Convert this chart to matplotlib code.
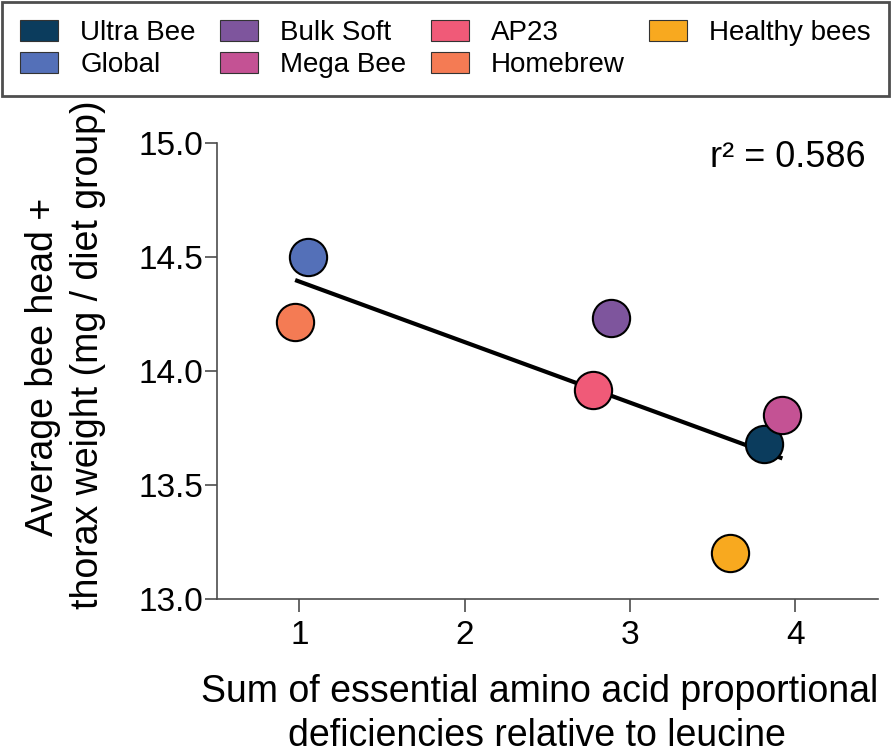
import matplotlib.pyplot as plt
from matplotlib.patches import Patch

plt.rcParams['font.family'] = ['Liberation Sans', 'DejaVu Sans']

# diet groups
diets = ['Ultra Bee', 'Global', 'Bulk Soft', 'Mega Bee', 'AP23', 'Homebrew', 'Healthy bees']
colors = ['#0B3C5D', '#5470B8', '#7E559D', '#C45294', '#F05A78', '#F47B54', '#F8A91F']
deficiency = [3.81, 1.05, 2.885, 3.922, 2.776, 0.975, 3.602]
weight = [13.68, 14.50, 14.235, 13.808, 13.918, 14.215, 13.202]

# regression line over the six diets (healthy bees not included)
fit_slope = -0.2657
fit_intercept = 14.659
r_squared = 0.586

fig = plt.figure(figsize=(8.92, 7.54), dpi=100)
W, H = 892, 754
ax = fig.add_axes([216.6 / W, 1 - 599 / H, (878 - 216.6) / W, (599 - 143.3) / H])

fit_x = [min(deficiency[:6]), max(deficiency[:6])]
fit_y = [fit_intercept + fit_slope * x for x in fit_x]
ax.plot(fit_x, fit_y, color='black', lw=3, solid_capstyle='butt', zorder=2)

for x, y, c in zip(deficiency, weight, colors):
    ax.scatter(x, y, s=720, color=c, edgecolor='black', linewidth=1.5, zorder=3)

ax.set_xlim(0.5, 4.5)
ax.set_ylim(13.0, 15.0)
ax.set_xticks([1, 2, 3, 4])
ax.set_yticks([13.0, 13.5, 14.0, 14.5, 15.0])
ax.set_yticklabels(['13.0', '13.5', '14.0', '14.5', '15.0'])
for side in ['top', 'right']:
    ax.spines[side].set_visible(False)
for side in ['left', 'bottom']:
    ax.spines[side].set_color('#4d4d4d')
    ax.spines[side].set_linewidth(1.2)
ax.tick_params(axis='both', direction='out', length=9, width=1.2, color='#4d4d4d', labelsize=24)
ax.tick_params(axis='y', pad=0.5)
ax.tick_params(axis='x', pad=6)

ax.text(866 / W, 1 - 167 / H, 'r² = %.3f' % r_squared, transform=fig.transFigure,
        ha='right', va='baseline', fontsize=26)

# axis labels, one text per line
fig.text(540 / W, 1 - 702 / H, 'Sum of essential amino acid proportional',
         ha='center', va='baseline', fontsize=27)
fig.text(537 / W, 1 - 746 / H, 'deficiencies relative to leucine',
         ha='center', va='baseline', fontsize=27)
fig.text(53 / W, 1 - 367 / H, 'Average bee head +', rotation=90, rotation_mode='anchor',
         ha='center', va='baseline', fontsize=27)
fig.text(98 / W, 1 - 355 / H, 'thorax weight (mg / diet group)', rotation=90, rotation_mode='anchor',
         ha='center', va='baseline', fontsize=27)

handles = [Patch(facecolor=c, edgecolor='#333333', linewidth=0.8) for c in colors]
leg = fig.legend(handles, diets, ncol=4, loc='upper left', mode='expand',
                 bbox_to_anchor=(2 / W, 1 - 2 / H, 887 / W, 0), borderaxespad=0,
                 fontsize=20, handlelength=1.37, handleheight=0.76, handletextpad=0.8,
                 labelspacing=0.22, borderpad=0.65, fancybox=False, frameon=True)
leg.get_frame().set_edgecolor('#222222')
leg.get_frame().set_linewidth(2)

fig.savefig('out.png', dpi=100)
